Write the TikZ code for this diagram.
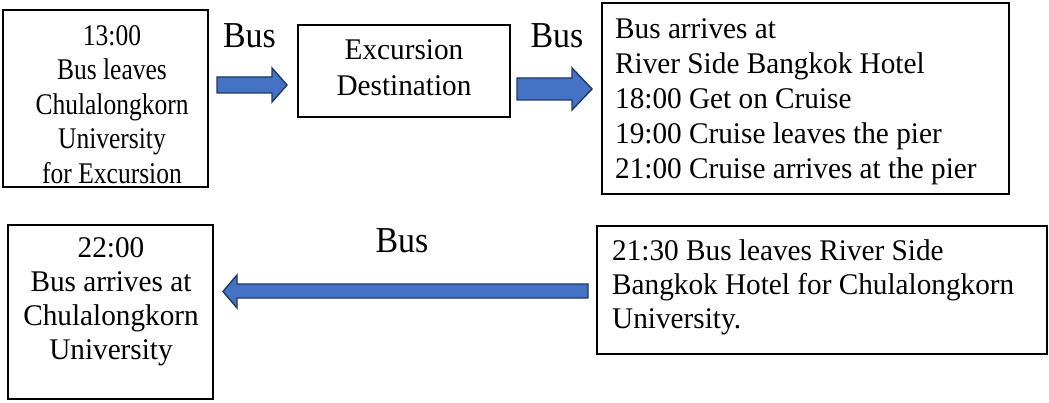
\documentclass[tikz,border=0pt]{standalone}
\usepackage{fontspec}
\setmainfont{Liberation Serif}
\newfontfamily\widefont[FakeStretch=0.975]{Liberation Serif}
\newfontfamily\narrowfont[FakeStretch=0.85]{Liberation Serif}
\newfontfamily\lblfont[FakeStretch=0.93]{Liberation Serif}
\newcommand{\firstline}{\rule{0pt}{22pt}}
\begin{document}
\begin{tikzpicture}[x=1pt,y=-1pt,
  box/.style={draw=black, line width=1.2pt, inner sep=0pt},
  ntxt/.style={inner sep=0pt, font=\narrowfont\fontsize{30}{34.5}\selectfont},
  wtxt/.style={inner sep=0pt, font=\widefont\fontsize{30}{#1}\selectfont},
  lbl/.style={inner sep=0pt, anchor=base, font=\lblfont\fontsize{36.5}{40}\selectfont},
  barrow/.style={fill={rgb,255:red,68;green,114;blue,196}, draw={rgb,255:red,31;green,56;blue,100}, line width=1.4pt, line join=miter}]
\useasboundingbox (0,0) rectangle (1049,403);
% boxes
\node[box, minimum width=205pt, minimum height=177pt] (b1) at (105.5,98.5) {};
\node[box, minimum width=212pt, minimum height=92pt] (b2) at (404,71) {};
\node[box, minimum width=407pt, minimum height=191pt] (b3) at (805.5,98.5) {};
\node[box, minimum width=205pt, minimum height=174pt] (b4) at (110.5,312) {};
\node[box, minimum width=450pt, minimum height=128pt] (b5) at (822,290) {};
% texts (north = first baseline - 22)
\node[ntxt, align=center, anchor=north] (t1) at (112,23) {\firstline 13:00\\Bus leaves\\Chulalongkorn\\University\\for Excursion};
\node[wtxt=36, align=center, anchor=north] (t2) at (404,37) {\firstline Excursion\\Destination};
\node[wtxt=35, align=left, anchor=north west] (t3) at (615,16) {\firstline Bus arrives at\\River Side Bangkok Hotel\\18:00 Get on Cruise\\19:00 Cruise leaves the pier\\21:00 Cruise arrives at the pier};
\node[wtxt=34, align=center, anchor=north] (t4) at (111,235) {\firstline 22:00\\Bus arrives at\\Chulalongkorn\\University};
\node[wtxt=34, align=left, anchor=north west] (t5) at (612,238) {\firstline 21:30 Bus leaves River Side\\Bangkok Hotel for Chulalongkorn\\University.};
% labels
\node[lbl] (l1) at (249.5,48) {Bus};
\node[lbl] (l2) at (557,48) {Bus};
\node[lbl] (l3) at (402,253) {Bus};
% block arrows
\draw[barrow] (217,77) -- (272,77) -- (272,68) -- (287,85) -- (272,102) -- (272,93) -- (217,93) -- cycle;
\draw[barrow] (517,78) -- (572,78) -- (572,68) -- (592,89) -- (572,110) -- (572,100) -- (517,100) -- cycle;
\draw[barrow] (588,284) -- (237,284) -- (237,275) -- (223,291.5) -- (237,308) -- (237,298) -- (588,298) -- cycle;
\end{tikzpicture}
\end{document}
